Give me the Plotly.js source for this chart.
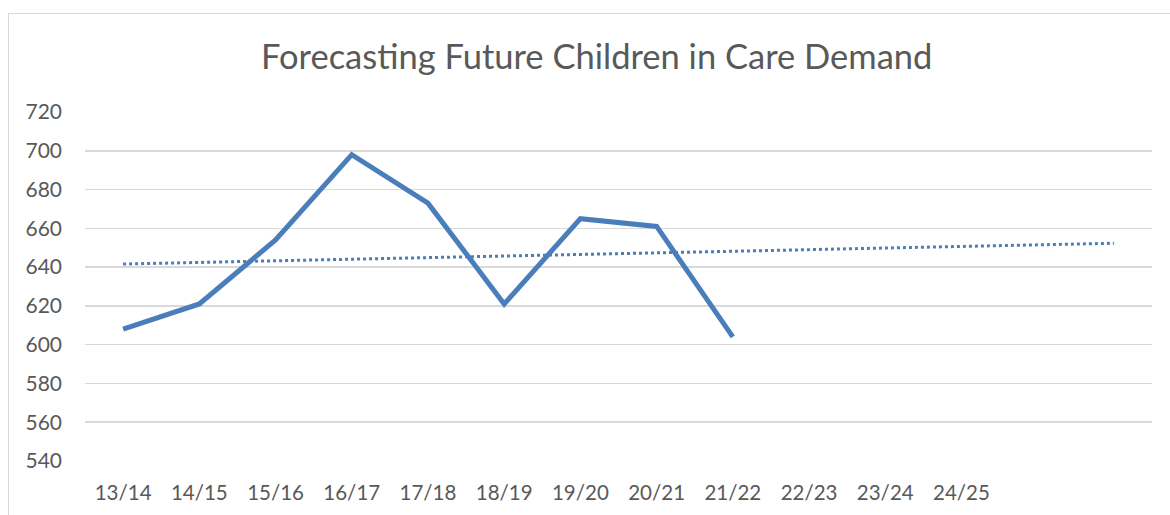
<!DOCTYPE html>
<html>
<head>
<meta charset="utf-8">
<script src="https://cdn.plot.ly/plotly-3.0.1.min.js"></script>
<style>
  html, body { margin: 0; padding: 0; background: #ffffff; overflow: hidden; }
  #frame { position: absolute; left: 8px; top: 13px; width: 1200px; height: 600px; border: 1.5px solid #d9d9d9; box-sizing: border-box; }
  #chart { position: absolute; left: 0; top: 0; width: 1170px; height: 515px; }
</style>
</head>
<body>
<div id="frame"></div>
<div id="chart"></div>
<script>
// Category labels (last two slots are unlabeled, used by the trendline)
const categories = ['13/14','14/15','15/16','16/17','17/18','18/19','19/20','20/21','21/22','22/23','23/24','24/25','',''];
// Actual children in care values (13/14 .. 21/22)
const actualValues = [608, 621, 654, 698, 673, 621, 665, 661, 604];
// Linear trendline endpoints (first and last category slot)
const trendIndex = [0, 13];
const trendValues = [641.6, 652.3];
const yTicks = [540, 560, 580, 600, 620, 640, 660, 680, 700, 720];

const idx = categories.map((_, i) => i);
const actualX = actualValues.map((_, i) => i);

const blue = '#4a7ebb';
const textColor = '#595959';
const fontFam = 'Lato, "Open Sans", sans-serif';

const traces = [
  {
    x: actualX, y: actualValues, type: 'scatter', mode: 'lines',
    line: { color: blue, width: 5 }, hoverinfo: 'skip'
  },
  {
    x: trendIndex, y: trendValues, type: 'scatter', mode: 'lines',
    line: { color: blue, width: 3, dash: 'dot' }, hoverinfo: 'skip'
  }
];

const layout = {
  width: 1170, height: 515,
  margin: { l: 85, r: 18, t: 112, b: 54 },
  paper_bgcolor: 'rgba(0,0,0,0)',
  plot_bgcolor: 'rgba(0,0,0,0)',
  showlegend: false,
  font: { family: fontFam, color: textColor },
  title: {
    text: 'Forecasting Future Children in Care Demand',
    font: { family: fontFam, size: 34.5, color: textColor },
    xref: 'container', x: 0.51, xanchor: 'center',
    yref: 'container', y: 1 - 57 / 515, yanchor: 'middle'
  },
  xaxis: {
    range: [-0.5, 13.5],
    tickmode: 'array', tickvals: idx, ticktext: categories,
    showgrid: false, zeroline: false, showline: false,
    ticks: '', ticklabelstandoff: 17,
    tickfont: { family: fontFam, size: 20.5, color: textColor }
  },
  yaxis: {
    range: [540, 720],
    tickmode: 'array', tickvals: yTicks,
    showgrid: true, gridcolor: '#d9d9d9', gridwidth: 1.5,
    zeroline: false, showline: false, ticks: '', ticklabelstandoff: 22,
    tickfont: { family: fontFam, size: 21, color: textColor }
  }
};

Plotly.newPlot('chart', traces, layout, { displayModeBar: false, staticPlot: true });
</script>
</body>
</html>
